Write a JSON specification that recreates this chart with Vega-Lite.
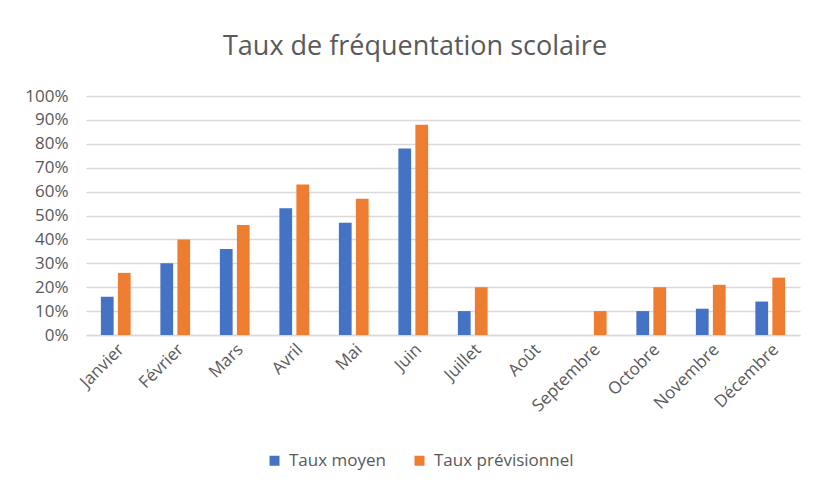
{
  "$schema": "https://vega.github.io/schema/vega-lite/v6.json",
  "autosize": {"type": "none"},
  "width": 714,
  "height": 239,
  "padding": {"left": 86, "top": 96, "right": 13, "bottom": 147},
  "background": "white",
  "title": {
    "text": "Taux de fréquentation scolaire",
    "font": "Open Sans",
    "fontSize": 27,
    "fontWeight": "normal",
    "color": "#595959",
    "anchor": "middle",
    "dx": -28,
    "offset": 26
  },
  "data": {
    "values": [
      {"mois": "Janvier", "serie": "Taux moyen", "taux": 0.16},
      {"mois": "Janvier", "serie": "Taux prévisionnel", "taux": 0.26},
      {"mois": "Février", "serie": "Taux moyen", "taux": 0.30},
      {"mois": "Février", "serie": "Taux prévisionnel", "taux": 0.40},
      {"mois": "Mars", "serie": "Taux moyen", "taux": 0.36},
      {"mois": "Mars", "serie": "Taux prévisionnel", "taux": 0.46},
      {"mois": "Avril", "serie": "Taux moyen", "taux": 0.53},
      {"mois": "Avril", "serie": "Taux prévisionnel", "taux": 0.63},
      {"mois": "Mai", "serie": "Taux moyen", "taux": 0.47},
      {"mois": "Mai", "serie": "Taux prévisionnel", "taux": 0.57},
      {"mois": "Juin", "serie": "Taux moyen", "taux": 0.78},
      {"mois": "Juin", "serie": "Taux prévisionnel", "taux": 0.88},
      {"mois": "Juillet", "serie": "Taux moyen", "taux": 0.10},
      {"mois": "Juillet", "serie": "Taux prévisionnel", "taux": 0.20},
      {"mois": "Août", "serie": "Taux moyen", "taux": 0},
      {"mois": "Août", "serie": "Taux prévisionnel", "taux": 0},
      {"mois": "Septembre", "serie": "Taux moyen", "taux": 0},
      {"mois": "Septembre", "serie": "Taux prévisionnel", "taux": 0.10},
      {"mois": "Octobre", "serie": "Taux moyen", "taux": 0.10},
      {"mois": "Octobre", "serie": "Taux prévisionnel", "taux": 0.20},
      {"mois": "Novembre", "serie": "Taux moyen", "taux": 0.11},
      {"mois": "Novembre", "serie": "Taux prévisionnel", "taux": 0.21},
      {"mois": "Décembre", "serie": "Taux moyen", "taux": 0.14},
      {"mois": "Décembre", "serie": "Taux prévisionnel", "taux": 0.24}
    ]
  },
  "mark": {"type": "bar"},
  "encoding": {
    "x": {
      "field": "mois",
      "type": "nominal",
      "sort": null,
      "scale": {"paddingInner": 0.5, "paddingOuter": 0.25},
      "axis": {
        "title": null,
        "labelAngle": -45,
        "labelAlign": "right",
        "labelBaseline": "top",
        "labelFont": "Open Sans",
        "labelFontSize": 17,
        "labelColor": "#595959",
        "labelPadding": 6,
        "ticks": false,
        "domainColor": "#d9d9d9",
        "domainWidth": 1.5
      }
    },
    "xOffset": {"field": "serie", "type": "nominal", "scale": {"paddingInner": 0.25}},
    "y": {
      "field": "taux",
      "type": "quantitative",
      "scale": {"domain": [0, 1]},
      "axis": {
        "title": null,
        "format": ".0%",
        "values": [0, 0.1, 0.2, 0.3, 0.4, 0.5, 0.6, 0.7, 0.8, 0.9, 1],
        "labelFont": "Open Sans",
        "labelFontSize": 17,
        "labelColor": "#595959",
        "labelPadding": 18,
        "ticks": false,
        "domain": false,
        "gridColor": "#d9d9d9",
        "gridWidth": 1.5
      }
    },
    "color": {
      "field": "serie",
      "type": "nominal",
      "scale": {"domain": ["Taux moyen", "Taux prévisionnel"], "range": ["#4472C4", "#ED7D31"]},
      "legend": {
        "title": null,
        "orient": "none",
        "direction": "horizontal",
        "legendX": 180,
        "legendY": 356,
        "symbolType": "square",
        "symbolSize": 100,
        "symbolStrokeWidth": 0,
        "labelFont": "Open Sans",
        "labelFontSize": 17,
        "labelColor": "#595959",
        "columnPadding": 24,
        "labelOffset": 6
      }
    }
  },
  "config": {"view": {"stroke": null}}
}
